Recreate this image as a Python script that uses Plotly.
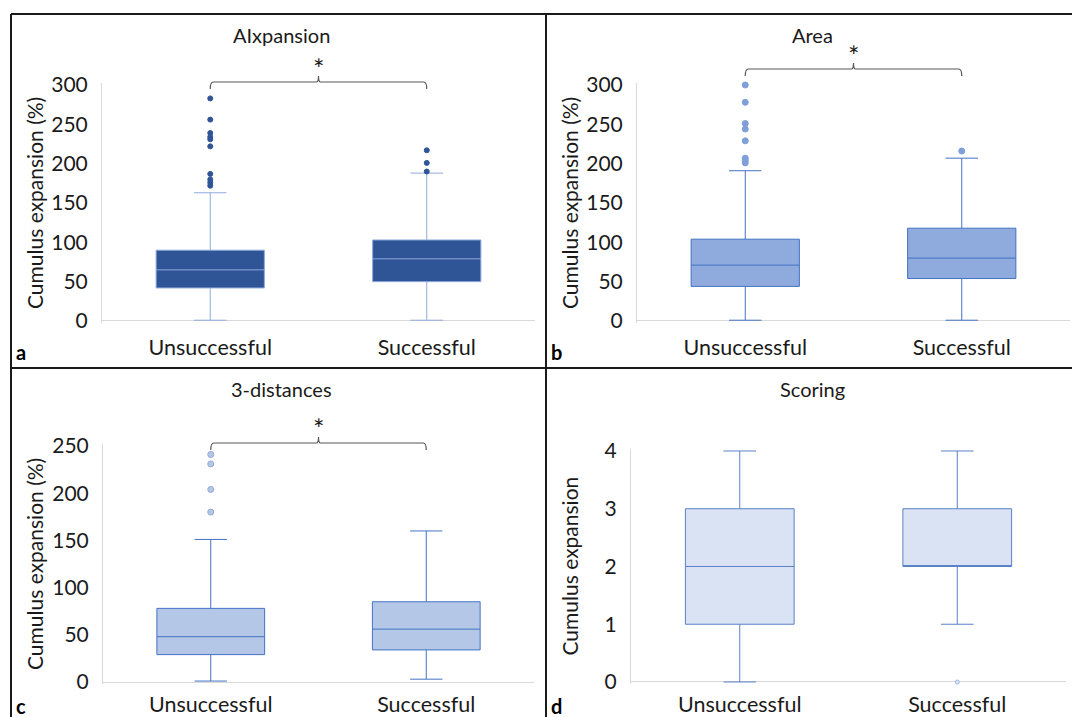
import plotly.graph_objects as go

# ---------------- data ----------------
categories = ["Unsuccessful", "Successful"]

# a) AIxpansion
aix_low = [1, 1]
aix_q1 = [42, 50]
aix_median = [65, 79]
aix_q3 = [90, 103]
aix_high = [163, 188]
aix_out_unsucc = [283, 256, 239, 234, 231, 222, 187, 180, 176, 172]
aix_out_succ = [217, 201, 190]

# b) Area
area_low = [1, 1]
area_q1 = [44, 54]
area_median = [71, 80]
area_q3 = [104, 118]
area_high = [191, 207]
area_out_unsucc = [300, 278, 251, 244, 229, 207, 204, 201]
area_out_succ = [216]

# c) 3-distances
dist_low = [1, 3]
dist_q1 = [29, 34]
dist_median = [48, 56]
dist_q3 = [78, 85]
dist_high = [151, 160]
dist_out_unsucc = [241, 231, 204, 180]
dist_out_succ = []

# d) Scoring
score_low = [0, 1]
score_q1 = [1, 2]
score_median = [2, 2]
score_q3 = [3, 3]
score_high = [4, 4]
score_out_unsucc = []
score_out_succ = [0]

y_ticks_pct_300 = [0, 50, 100, 150, 200, 250, 300]
y_ticks_pct_250 = [0, 50, 100, 150, 200, 250]
y_ticks_score = [0, 1, 2, 3, 4]

titles = ["AIxpansion", "Area", "3-distances", "Scoring"]
y_titles = ["Cumulus expansion (%)", "Cumulus expansion (%)",
            "Cumulus expansion (%)", "Cumulus expansion"]
letters = ["a", "b", "c", "d"]
significant = [True, True, True, False]

# ---------------- layout helpers ----------------
W, H = 1072, 717
FONT = "Lato"
TXT = "#1a1a1a"


def fx(p):
    return p / W


def fy(p):
    return 1 - p / H


panels = [
    # axis left/right px, px of value 0, px of top value, top value, range, ticks,
    # panel box, category-label standoff, letter y
    dict(l=102, r=535, p0=321, ptop=85, vtop=300, rng=(-2, 302), ticks=y_ticks_pct_300,
         panel=(11, 546, 14, 368), standoff=10, letter_y=352),
    dict(l=637, r=1070, p0=321, ptop=85, vtop=300, rng=(-2, 302), ticks=y_ticks_pct_300,
         panel=(546, 1078, 14, 368), standoff=10, letter_y=352),
    dict(l=103, r=534, p0=682, ptop=446, vtop=250, rng=(-2, 252), ticks=y_ticks_pct_250,
         panel=(11, 546, 368, 726), standoff=6, letter_y=706),
    dict(l=631, r=1066, p0=682, ptop=451, vtop=4, rng=(-0.03, 4.03), ticks=y_ticks_score,
         panel=(546, 1078, 368, 726), standoff=6, letter_y=706),
]

styles = [
    dict(fill="#2F5597", line="#8FAADC", mk="#2F5597", mkline="#2F5597", size=5),
    dict(fill="#8FAADC", line="#4472C4", mk="#7F9FDA", mkline="#7F9FDA", size=6),
    dict(fill="#B4C7E7", line="#4472C4", mk="#B4C7E7", mkline="#8FAADC", size=6),
    dict(fill="#DAE3F3", line="#5B80C8", mk="#DAE3F3", mkline="#9FB6DF", size=4),
]

stats = [
    (aix_low, aix_q1, aix_median, aix_q3, aix_high, aix_out_unsucc, aix_out_succ),
    (area_low, area_q1, area_median, area_q3, area_high, area_out_unsucc, area_out_succ),
    (dist_low, dist_q1, dist_median, dist_q3, dist_high, dist_out_unsucc, dist_out_succ),
    (score_low, score_q1, score_median, score_q3, score_high, score_out_unsucc, score_out_succ),
]

fig = go.Figure()
layout = dict(
    width=W, height=H, margin=dict(l=0, r=0, t=0, b=0, pad=0), autosize=False,
    paper_bgcolor="white", plot_bgcolor="white", showlegend=False,
    font=dict(family=FONT, color=TXT),
)
annotations = []
shapes = []

for i, (pn, st, stat) in enumerate(zip(panels, styles, stats)):
    n = i + 1
    xa = "x" if n == 1 else f"x{n}"
    ya = "y" if n == 1 else f"y{n}"
    low, q1, med, q3, high, out_u, out_s = stat

    scale = (pn["p0"] - pn["ptop"]) / pn["vtop"]
    r0, r1 = pn["rng"]
    bottom_px = pn["p0"] - r0 * scale
    top_px = pn["ptop"] - (r1 - pn["vtop"]) * scale

    layout[f"xaxis{n}"] = dict(
        domain=[fx(pn["l"]), fx(pn["r"])], anchor=ya, type="category",
        categoryorder="array", categoryarray=categories, range=[-0.5, 1.5],
        showline=False, showgrid=False, zeroline=False, ticks="", automargin=False,
        ticklabelstandoff=pn["standoff"], tickfont=dict(size=21.5, family=FONT, color=TXT),
    )
    layout[f"yaxis{n}"] = dict(
        domain=[fy(bottom_px), fy(top_px)], anchor=xa, range=[r0, r1],
        tickvals=pn["ticks"], showgrid=False, showline=True, linecolor="#D9D9D9",
        linewidth=1, zeroline=True, zerolinecolor="#D9D9D9", zerolinewidth=1,
        ticks="", ticklabelstandoff=9, automargin=False,
        tickfont=dict(size=21, family=FONT, color=TXT),
    )

    fig.add_trace(go.Box(
        x=categories, q1=q1, median=med, q3=q3, lowerfence=low, upperfence=high,
        boxpoints=False, fillcolor=st["fill"], line=dict(color=st["line"], width=1),
        whiskerwidth=0.3, width=0.5, xaxis=xa, yaxis=ya, hoverinfo="skip",
    ))
    for cat, outs in zip(categories, (out_u, out_s)):
        if outs:
            fig.add_trace(go.Scatter(
                x=[cat] * len(outs), y=outs, mode="markers", cliponaxis=False,
                marker=dict(size=st["size"], color=st["mk"],
                            line=dict(color=st["mkline"], width=1)),
                xaxis=xa, yaxis=ya, hoverinfo="skip",
            ))

    # panel title, centred over the panel
    pl, pr, pt, pb = pn["panel"]
    centre = (pl + min(pr, W)) / 2 + 3
    annotations.append(dict(
        text=titles[i], x=fx(centre), y=fy(pt + 21), xref="paper", yref="paper",
        showarrow=False, font=dict(size=20, family=FONT, color=TXT),
        xanchor="center", yanchor="middle",
    ))
    # y-axis title
    annotations.append(dict(
        text=y_titles[i], textangle=-90, x=fx(pl + 23), y=fy((pn["p0"] + pn["ptop"]) / 2),
        xref="paper", yref="paper", showarrow=False,
        font=dict(size=21, family=FONT, color=TXT), xanchor="center", yanchor="middle",
    ))
    # panel letter
    annotations.append(dict(
        text=f"<b>{letters[i]}</b>", x=fx(pl + 3), y=fy(pn["letter_y"]),
        xref="paper", yref="paper", showarrow=False,
        font=dict(size=20, family=FONT, color="#000000"), xanchor="left", yanchor="middle",
    ))

    # significance bracket between the two category centres
    if significant[i]:
        width_px = pn["r"] - pn["l"]
        xL = pn["l"] + 0.25 * width_px
        xR = pn["l"] + 0.75 * width_px
        xc = (xL + xR) / 2
        yb = pn["ptop"] - 3 if n != 2 else pn["ptop"] - 16
        tip = 7
        path = (
            f"M {fx(xL)},{fy(yb + tip)} "
            f"Q {fx(xL)},{fy(yb)} {fx(xL + 3)},{fy(yb)} "
            f"L {fx(xc - 2)},{fy(yb)} "
            f"Q {fx(xc)},{fy(yb)} {fx(xc)},{fy(yb - 6)} "
            f"Q {fx(xc)},{fy(yb)} {fx(xc + 2)},{fy(yb)} "
            f"L {fx(xR - 3)},{fy(yb)} "
            f"Q {fx(xR)},{fy(yb)} {fx(xR)},{fy(yb + tip)}"
        )
        shapes.append(dict(type="path", path=path, xref="paper", yref="paper",
                           line=dict(color="#595959", width=1.2)))
        annotations.append(dict(
            text="*", x=fx(xc), y=fy(yb - 14), xref="paper", yref="paper",
            showarrow=False, font=dict(size=27, family=FONT, color=TXT),
            xanchor="center", yanchor="middle",
        ))

# panel frame lines
frame = "#1a1a1a"
for x0, y0, x1, y1 in [(11, 14, 1072, 14), (11, 14, 11, 717), (546, 14, 546, 717),
                       (11, 368, 1072, 368)]:
    shapes.append(dict(type="line", xref="paper", yref="paper",
                       x0=fx(x0), y0=fy(y0), x1=fx(x1), y1=fy(y1),
                       line=dict(color=frame, width=2)))

layout["annotations"] = annotations
layout["shapes"] = shapes
fig.update_layout(**layout)
fig.write_html("out.html")
